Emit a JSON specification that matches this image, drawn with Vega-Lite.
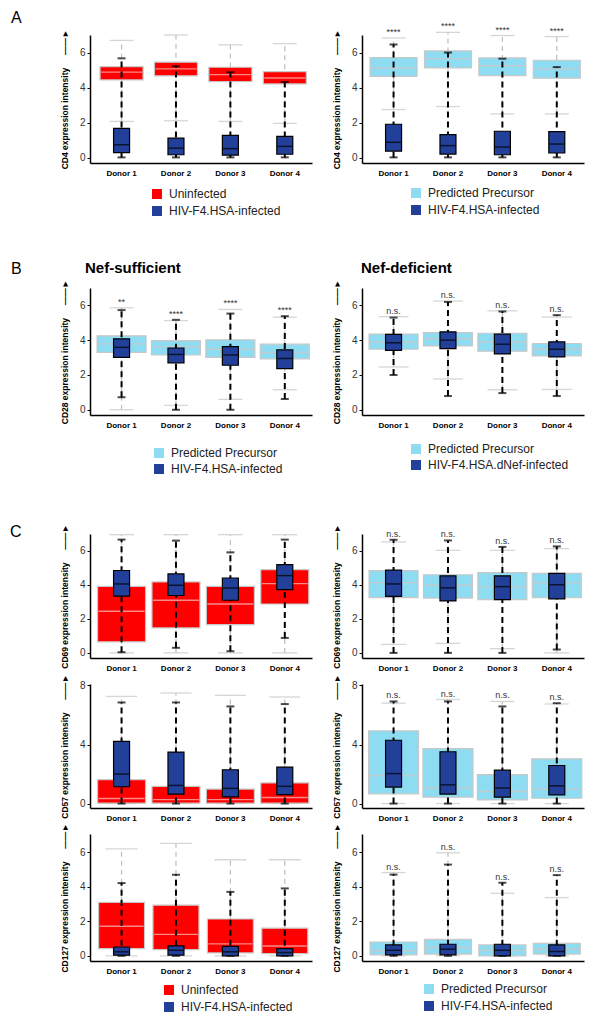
{
 "$schema": "https://vega.github.io/schema/vega-lite/v6.json",
 "padding": {"left": 10, "top": 10, "right": 5, "bottom": 5},
 "columns": 2,
 "spacing": {"row": 26, "column": 50},
 "bounds": "flush",
 "resolve": {"scale": {"color": "independent", "x": "independent", "y": "independent"}, "legend": {"color": "independent"}},
 "datasets": {
  "aL": [
   {"donor":"Donor 1","kind":"bg","grp":"Uninfected","lo":2.07,"q1":4.44,"med":4.88,"q3":5.2,"hi":6.69},
   {"donor":"Donor 1","kind":"inf","grp":"HIV-F4.HSA-infected","lo":0.02,"q1":0.29,"med":0.74,"q3":1.68,"hi":5.67},
   {"donor":"Donor 2","kind":"bg","grp":"Uninfected","lo":2.11,"q1":4.67,"med":5.07,"q3":5.45,"hi":7.0},
   {"donor":"Donor 2","kind":"inf","grp":"HIV-F4.HSA-infected","lo":0.02,"q1":0.17,"med":0.55,"q3":1.12,"hi":5.22},
   {"donor":"Donor 3","kind":"bg","grp":"Uninfected","lo":2.07,"q1":4.34,"med":4.74,"q3":5.16,"hi":6.44},
   {"donor":"Donor 3","kind":"inf","grp":"HIV-F4.HSA-infected","lo":0.02,"q1":0.15,"med":0.52,"q3":1.28,"hi":4.88},
   {"donor":"Donor 4","kind":"bg","grp":"Uninfected","lo":1.96,"q1":4.21,"med":4.55,"q3":4.91,"hi":6.51},
   {"donor":"Donor 4","kind":"inf","grp":"HIV-F4.HSA-infected","lo":0.02,"q1":0.2,"med":0.65,"q3":1.22,"hi":4.32}
  ],
  "aR": [
   {"donor":"Donor 1","kind":"bg","grp":"Predicted Precursor","lo":2.75,"q1":4.64,"med":5.12,"q3":5.71,"hi":6.83,"sig":"****"},
   {"donor":"Donor 1","kind":"inf","grp":"HIV-F4.HSA-infected","lo":0.02,"q1":0.38,"med":0.88,"q3":1.91,"hi":6.46,"sig":"****"},
   {"donor":"Donor 2","kind":"bg","grp":"Predicted Precursor","lo":2.92,"q1":5.12,"med":5.65,"q3":6.09,"hi":7.15,"sig":"****"},
   {"donor":"Donor 2","kind":"inf","grp":"HIV-F4.HSA-infected","lo":0.02,"q1":0.21,"med":0.69,"q3":1.32,"hi":6.0,"sig":"****"},
   {"donor":"Donor 3","kind":"bg","grp":"Predicted Precursor","lo":2.5,"q1":4.68,"med":5.25,"q3":5.69,"hi":6.97,"sig":"****"},
   {"donor":"Donor 3","kind":"inf","grp":"HIV-F4.HSA-infected","lo":0.02,"q1":0.17,"med":0.61,"q3":1.51,"hi":5.65,"sig":"****"},
   {"donor":"Donor 4","kind":"bg","grp":"Predicted Precursor","lo":2.5,"q1":4.54,"med":5.07,"q3":5.56,"hi":6.91,"sig":"****"},
   {"donor":"Donor 4","kind":"inf","grp":"HIV-F4.HSA-infected","lo":0.02,"q1":0.27,"med":0.78,"q3":1.49,"hi":5.17,"sig":"****"}
  ],
  "bL": [
   {"donor":"Donor 1","kind":"bg","grp":"Predicted Precursor","lo":0.0,"q1":3.3,"med":3.79,"q3":4.25,"hi":5.86,"sig":"**"},
   {"donor":"Donor 1","kind":"inf","grp":"HIV-F4.HSA-infected","lo":0.72,"q1":3.01,"med":3.59,"q3":4.08,"hi":5.73,"sig":"**"},
   {"donor":"Donor 2","kind":"bg","grp":"Predicted Precursor","lo":0.25,"q1":3.15,"med":3.63,"q3":3.98,"hi":5.13,"sig":"****"},
   {"donor":"Donor 2","kind":"inf","grp":"HIV-F4.HSA-infected","lo":0.0,"q1":2.7,"med":3.18,"q3":3.55,"hi":5.17,"sig":"****"},
   {"donor":"Donor 3","kind":"bg","grp":"Predicted Precursor","lo":0.6,"q1":3.01,"med":3.48,"q3":4.02,"hi":5.77,"sig":"****"},
   {"donor":"Donor 3","kind":"inf","grp":"HIV-F4.HSA-infected","lo":0.0,"q1":2.56,"med":3.15,"q3":3.63,"hi":5.53,"sig":"****"},
   {"donor":"Donor 4","kind":"bg","grp":"Predicted Precursor","lo":1.15,"q1":2.93,"med":3.3,"q3":3.77,"hi":5.32,"sig":"****"},
   {"donor":"Donor 4","kind":"inf","grp":"HIV-F4.HSA-infected","lo":0.62,"q1":2.37,"med":2.95,"q3":3.44,"hi":5.38,"sig":"****"}
  ],
  "bR": [
   {"donor":"Donor 1","kind":"bg","grp":"Predicted Precursor","lo":2.46,"q1":3.48,"med":3.9,"q3":4.35,"hi":5.35,"sig":"n.s."},
   {"donor":"Donor 1","kind":"inf","grp":"HIV-F4.HSA.dNef-infected","lo":2.0,"q1":3.42,"med":3.85,"q3":4.33,"hi":5.3,"sig":"n.s."},
   {"donor":"Donor 2","kind":"bg","grp":"Predicted Precursor","lo":1.77,"q1":3.67,"med":4.08,"q3":4.44,"hi":6.25,"sig":"n.s."},
   {"donor":"Donor 2","kind":"inf","grp":"HIV-F4.HSA.dNef-infected","lo":0.79,"q1":3.52,"med":4.0,"q3":4.48,"hi":6.2,"sig":"n.s."},
   {"donor":"Donor 3","kind":"bg","grp":"Predicted Precursor","lo":1.15,"q1":3.37,"med":3.9,"q3":4.4,"hi":5.69,"sig":"n.s."},
   {"donor":"Donor 3","kind":"inf","grp":"HIV-F4.HSA.dNef-infected","lo":0.96,"q1":3.21,"med":3.77,"q3":4.35,"hi":5.65,"sig":"n.s."},
   {"donor":"Donor 4","kind":"bg","grp":"Predicted Precursor","lo":1.17,"q1":3.1,"med":3.48,"q3":3.81,"hi":5.33,"sig":"n.s."},
   {"donor":"Donor 4","kind":"inf","grp":"HIV-F4.HSA.dNef-infected","lo":0.79,"q1":3.04,"med":3.48,"q3":3.9,"hi":5.44,"sig":"n.s."}
  ],
  "c1L": [
   {"donor":"Donor 1","kind":"bg","lo":0,"q1":0.65,"med":2.45,"q3":3.92,"hi":6.96},
   {"donor":"Donor 1","kind":"inf","lo":0.04,"q1":3.34,"med":4.06,"q3":4.85,"hi":6.67},
   {"donor":"Donor 2","kind":"bg","lo":0,"q1":1.47,"med":3.1,"q3":4.18,"hi":6.96},
   {"donor":"Donor 2","kind":"inf","lo":0.3,"q1":3.38,"med":3.98,"q3":4.65,"hi":6.61},
   {"donor":"Donor 3","kind":"bg","lo":0,"q1":1.67,"med":2.88,"q3":3.92,"hi":6.96},
   {"donor":"Donor 3","kind":"inf","lo":0.1,"q1":3.1,"med":3.82,"q3":4.41,"hi":5.92},
   {"donor":"Donor 4","kind":"bg","lo":0,"q1":2.88,"med":4.08,"q3":4.9,"hi":6.96},
   {"donor":"Donor 4","kind":"inf","lo":0.88,"q1":3.73,"med":4.55,"q3":5.2,"hi":6.67}
  ],
  "c1R": [
   {"donor":"Donor 1","kind":"bg","lo":0.5,"q1":3.25,"med":4.14,"q3":4.84,"hi":6.53,"sig":"n.s."},
   {"donor":"Donor 1","kind":"inf","lo":0,"q1":3.33,"med":4.06,"q3":4.87,"hi":6.66,"sig":"n.s."},
   {"donor":"Donor 2","kind":"bg","lo":0.56,"q1":3.23,"med":4.0,"q3":4.6,"hi":6.04,"sig":"n.s."},
   {"donor":"Donor 2","kind":"inf","lo":0,"q1":3.06,"med":3.83,"q3":4.54,"hi":6.62,"sig":"n.s."},
   {"donor":"Donor 3","kind":"bg","lo":0.25,"q1":3.14,"med":3.87,"q3":4.73,"hi":6.04,"sig":"n.s."},
   {"donor":"Donor 3","kind":"inf","lo":0,"q1":3.14,"med":3.9,"q3":4.54,"hi":6.24,"sig":"n.s."},
   {"donor":"Donor 4","kind":"bg","lo":0,"q1":3.25,"med":4.14,"q3":4.68,"hi":6.14,"sig":"n.s."},
   {"donor":"Donor 4","kind":"inf","lo":0.2,"q1":3.18,"med":4.01,"q3":4.68,"hi":6.27,"sig":"n.s."}
  ],
  "c2L": [
   {"donor":"Donor 1","kind":"bg","lo":0,"q1":0.03,"med":0.34,"q3":1.62,"hi":7.26},
   {"donor":"Donor 1","kind":"inf","lo":0,"q1":1.14,"med":2.0,"q3":4.22,"hi":6.85},
   {"donor":"Donor 2","kind":"bg","lo":0,"q1":0.03,"med":0.27,"q3":1.17,"hi":7.49},
   {"donor":"Donor 2","kind":"inf","lo":0,"q1":0.64,"med":1.23,"q3":3.49,"hi":6.85},
   {"donor":"Donor 3","kind":"bg","lo":0,"q1":0.03,"med":0.27,"q3":0.98,"hi":7.33},
   {"donor":"Donor 3","kind":"inf","lo":0,"q1":0.46,"med":1.03,"q3":2.29,"hi":6.58},
   {"donor":"Donor 4","kind":"bg","lo":0,"q1":0.03,"med":0.41,"q3":1.4,"hi":7.22},
   {"donor":"Donor 4","kind":"inf","lo":0,"q1":0.6,"med":1.17,"q3":2.47,"hi":6.74}
  ],
  "c2R": [
   {"donor":"Donor 1","kind":"bg","lo":0,"q1":0.66,"med":1.89,"q3":4.93,"hi":6.8,"sig":"n.s."},
   {"donor":"Donor 1","kind":"inf","lo":0,"q1":1.12,"med":2.03,"q3":4.29,"hi":6.92,"sig":"n.s."},
   {"donor":"Donor 2","kind":"bg","lo":0,"q1":0.43,"med":1.07,"q3":3.72,"hi":7.05,"sig":"n.s."},
   {"donor":"Donor 2","kind":"inf","lo":0,"q1":0.64,"med":1.27,"q3":3.51,"hi":6.92,"sig":"n.s."},
   {"donor":"Donor 3","kind":"bg","lo":0,"q1":0.25,"med":0.82,"q3":1.96,"hi":6.92,"sig":"n.s."},
   {"donor":"Donor 3","kind":"inf","lo":0,"q1":0.43,"med":1.05,"q3":2.26,"hi":6.58,"sig":"n.s."},
   {"donor":"Donor 4","kind":"bg","lo":0,"q1":0.36,"med":0.98,"q3":3.03,"hi":6.75,"sig":"n.s."},
   {"donor":"Donor 4","kind":"inf","lo":0,"q1":0.59,"med":1.2,"q3":2.58,"hi":6.8,"sig":"n.s."}
  ],
  "c3L": [
   {"donor":"Donor 1","kind":"bg","grp":"Uninfected","lo":0,"q1":0.42,"med":1.71,"q3":3.09,"hi":6.19},
   {"donor":"Donor 1","kind":"inf","grp":"HIV-F4.HSA-infected","lo":0,"q1":0.04,"med":0.23,"q3":0.51,"hi":4.21},
   {"donor":"Donor 2","kind":"bg","grp":"Uninfected","lo":0,"q1":0.36,"med":1.24,"q3":2.93,"hi":6.51},
   {"donor":"Donor 2","kind":"inf","grp":"HIV-F4.HSA-infected","lo":0,"q1":0.04,"med":0.32,"q3":0.57,"hi":4.69},
   {"donor":"Donor 3","kind":"bg","grp":"Uninfected","lo":0,"q1":0.17,"med":0.69,"q3":2.13,"hi":5.56},
   {"donor":"Donor 3","kind":"inf","grp":"HIV-F4.HSA-infected","lo":0,"q1":0.0,"med":0.23,"q3":0.55,"hi":3.7},
   {"donor":"Donor 4","kind":"bg","grp":"Uninfected","lo":0,"q1":0.13,"med":0.57,"q3":1.6,"hi":5.56},
   {"donor":"Donor 4","kind":"inf","grp":"HIV-F4.HSA-infected","lo":0,"q1":0.0,"med":0.19,"q3":0.42,"hi":3.9}
  ],
  "c3R": [
   {"donor":"Donor 1","kind":"bg","grp":"Predicted Precursor","lo":0,"q1":0.06,"med":0.29,"q3":0.8,"hi":4.82,"sig":"n.s."},
   {"donor":"Donor 1","kind":"inf","grp":"HIV-F4.HSA-infected","lo":0,"q1":0.06,"med":0.32,"q3":0.63,"hi":4.7,"sig":"n.s."},
   {"donor":"Donor 2","kind":"bg","grp":"Predicted Precursor","lo":0,"q1":0.1,"med":0.48,"q3":0.95,"hi":5.96,"sig":"n.s."},
   {"donor":"Donor 2","kind":"inf","grp":"HIV-F4.HSA-infected","lo":0,"q1":0.06,"med":0.38,"q3":0.67,"hi":5.28,"sig":"n.s."},
   {"donor":"Donor 3","kind":"bg","grp":"Predicted Precursor","lo":0,"q1":0.0,"med":0.32,"q3":0.63,"hi":3.62,"sig":"n.s."},
   {"donor":"Donor 3","kind":"inf","grp":"HIV-F4.HSA-infected","lo":0,"q1":0.0,"med":0.32,"q3":0.67,"hi":4.23,"sig":"n.s."},
   {"donor":"Donor 4","kind":"bg","grp":"Predicted Precursor","lo":0,"q1":0.1,"med":0.38,"q3":0.72,"hi":3.37,"sig":"n.s."},
   {"donor":"Donor 4","kind":"inf","grp":"HIV-F4.HSA-infected","lo":0,"q1":0.0,"med":0.25,"q3":0.63,"hi":4.67,"sig":"n.s."}
  ]
 },
 "concat": [
  {
   "width": 222, "height": 128,
   "data": {"name": "aL"},
   "title": {"text": "A", "anchor": "start", "frame": "group", "dx": -79, "fontSize": 16, "fontWeight": "normal", "baseline": "alphabetic", "offset": -10},
   "encoding": {"x": {"field": "donor", "type": "nominal", "title": null, "scale": {"paddingInner": 0, "paddingOuter": 0.04, "align": 1}}},
   "layer": [
    {"transform": [{"filter": "datum.kind == 'bg'"}], "mark": {"type": "rule", "color": "#bdbdbd", "strokeDash": [5, 4], "strokeWidth": 1.2}, "encoding": {"y": {"field": "lo", "type": "quantitative", "scale": {"domain": [-0.3, 7], "nice": false, "zero": false}, "axis": {"values": [0,1,2,3,4,5,6,7], "labelExpr": "datum.value % 2 == 0 ? datum.label : ''", "title": "CD4 expression intensity\u2002\u2002\u2002\u2014\u2014\u25ba"}}, "y2": {"field": "hi"}}},
    {"transform": [{"filter": "datum.kind == 'bg'"}], "mark": {"type": "tick", "color": "#c4c4c4", "size": 24, "thickness": 1.3}, "encoding": {"y": {"field": "hi", "type": "quantitative"}}},
    {"transform": [{"filter": "datum.kind == 'bg'"}], "mark": {"type": "tick", "color": "#c4c4c4", "size": 24, "thickness": 1.3}, "encoding": {"y": {"field": "lo", "type": "quantitative"}}},
    {"transform": [{"filter": "datum.kind == 'bg'"}], "mark": {"type": "bar", "width": 43, "stroke": "#c8c8c8", "strokeWidth": 1.2}, "encoding": {"y": {"field": "q1", "type": "quantitative"}, "y2": {"field": "q3"}, "color": {"field": "grp", "type": "nominal", "scale": {"domain": ["Uninfected", "HIV-F4.HSA-infected"], "range": ["#ff0000", "#22409a"]}, "legend": {"title": null, "orient": "none", "legendX": 61, "legendY": 153, "symbolType": "square", "symbolSize": 100, "symbolStrokeWidth": 0, "labelFontSize": 12, "labelColor": "#222", "labelOffset": 6, "rowPadding": 5}}}},
    {"transform": [{"filter": "datum.kind == 'bg'"}], "mark": {"type": "tick", "color": "#f4c4c4", "size": 41, "thickness": 1.4}, "encoding": {"y": {"field": "med", "type": "quantitative"}}},
    {"transform": [{"filter": "datum.kind == 'inf'"}], "mark": {"type": "rule", "color": "black", "strokeDash": [6, 4], "strokeWidth": 2}, "encoding": {"y": {"field": "lo", "type": "quantitative"}, "y2": {"field": "hi"}}},
    {"transform": [{"filter": "datum.kind == 'inf'"}], "mark": {"type": "tick", "color": "black", "size": 8, "thickness": 2}, "encoding": {"y": {"field": "hi", "type": "quantitative"}}},
    {"transform": [{"filter": "datum.kind == 'inf'"}], "mark": {"type": "tick", "color": "black", "size": 8, "thickness": 2}, "encoding": {"y": {"field": "lo", "type": "quantitative"}}},
    {"transform": [{"filter": "datum.kind == 'inf'"}], "mark": {"type": "bar", "width": 16, "stroke": "black", "strokeWidth": 1.2}, "encoding": {"y": {"field": "q1", "type": "quantitative"}, "y2": {"field": "q3"}, "color": {"field": "grp", "type": "nominal", "scale": {"domain": ["Uninfected", "HIV-F4.HSA-infected"], "range": ["#ff0000", "#22409a"]}}}},
    {"transform": [{"filter": "datum.kind == 'inf'"}], "mark": {"type": "tick", "color": "black", "size": 15, "thickness": 1.5}, "encoding": {"y": {"field": "med", "type": "quantitative"}}}
   ]
  },
  {
   "width": 222, "height": 128,
   "data": {"name": "aR"},
   "encoding": {"x": {"field": "donor", "type": "nominal", "title": null, "scale": {"paddingInner": 0, "paddingOuter": 0.04, "align": 1}}},
   "layer": [
    {"transform": [{"filter": "datum.kind == 'bg'"}], "mark": {"type": "rule", "color": "#bdbdbd", "strokeDash": [5, 4], "strokeWidth": 1.2}, "encoding": {"y": {"field": "lo", "type": "quantitative", "scale": {"domain": [-0.3, 7], "nice": false, "zero": false}, "axis": {"values": [0,1,2,3,4,5,6,7], "labelExpr": "datum.value % 2 == 0 ? datum.label : ''", "title": "CD4 expression intensity\u2002\u2002\u2002\u2014\u2014\u25ba"}}, "y2": {"field": "hi"}}},
    {"transform": [{"filter": "datum.kind == 'bg'"}], "mark": {"type": "tick", "color": "#c4c4c4", "size": 24, "thickness": 1.3}, "encoding": {"y": {"field": "hi", "type": "quantitative"}}},
    {"transform": [{"filter": "datum.kind == 'bg'"}], "mark": {"type": "tick", "color": "#c4c4c4", "size": 24, "thickness": 1.3}, "encoding": {"y": {"field": "lo", "type": "quantitative"}}},
    {"transform": [{"filter": "datum.kind == 'bg'"}], "mark": {"type": "bar", "width": 47, "stroke": "#c8c8c8", "strokeWidth": 1.2}, "encoding": {"y": {"field": "q1", "type": "quantitative"}, "y2": {"field": "q3"}, "color": {"field": "grp", "type": "nominal", "scale": {"domain": ["Predicted Precursor", "HIV-F4.HSA-infected"], "range": ["#8edcf2", "#22409a"]}, "legend": {"title": null, "orient": "none", "legendX": 48, "legendY": 152, "symbolType": "square", "symbolSize": 100, "symbolStrokeWidth": 0, "labelFontSize": 12, "labelColor": "#222", "labelOffset": 6, "rowPadding": 5}}}},
    {"transform": [{"filter": "datum.kind == 'bg'"}], "mark": {"type": "tick", "color": "#d9c4c0", "size": 45, "thickness": 1.4}, "encoding": {"y": {"field": "med", "type": "quantitative"}}},
    {"transform": [{"filter": "datum.kind == 'inf'"}], "mark": {"type": "rule", "color": "black", "strokeDash": [6, 4], "strokeWidth": 2}, "encoding": {"y": {"field": "lo", "type": "quantitative"}, "y2": {"field": "hi"}}},
    {"transform": [{"filter": "datum.kind == 'inf'"}], "mark": {"type": "tick", "color": "black", "size": 8, "thickness": 2}, "encoding": {"y": {"field": "hi", "type": "quantitative"}}},
    {"transform": [{"filter": "datum.kind == 'inf'"}], "mark": {"type": "tick", "color": "black", "size": 8, "thickness": 2}, "encoding": {"y": {"field": "lo", "type": "quantitative"}}},
    {"transform": [{"filter": "datum.kind == 'inf'"}], "mark": {"type": "bar", "width": 16, "stroke": "black", "strokeWidth": 1.2}, "encoding": {"y": {"field": "q1", "type": "quantitative"}, "y2": {"field": "q3"}, "color": {"field": "grp", "type": "nominal", "scale": {"domain": ["Predicted Precursor", "HIV-F4.HSA-infected"], "range": ["#8edcf2", "#22409a"]}}}},
    {"transform": [{"filter": "datum.kind == 'inf'"}], "mark": {"type": "tick", "color": "black", "size": 15, "thickness": 1.5}, "encoding": {"y": {"field": "med", "type": "quantitative"}}},
    {"mark": {"type": "text", "dy": -3, "fontSize": 9, "color": "#333", "baseline": "alphabetic"}, "encoding": {"y": {"aggregate": "max", "field": "hi", "type": "quantitative"}, "text": {"field": "sig"}}}
   ]
  },
  {
   "width": 222, "height": 73,
   "data": {"values": []},
   "title": {"text": "B", "orient": "bottom", "anchor": "start", "frame": "group", "dx": -79, "fontSize": 16, "fontWeight": "normal", "baseline": "alphabetic", "offset": 12},
   "mark": {"type": "point"},
   "encoding": {}
  },
  {
   "width": 222, "height": 73,
   "data": {"values": []},
   "mark": {"type": "point"},
   "encoding": {}
  },
  {
   "width": 222, "height": 127,
   "data": {"name": "bL"},
   "title": {"text": "Nef-sufficient", "anchor": "start", "frame": "group", "dx": -5, "fontSize": 15, "fontWeight": "bold", "baseline": "alphabetic", "offset": -9},
   "encoding": {"x": {"field": "donor", "type": "nominal", "title": null, "scale": {"paddingInner": 0, "paddingOuter": 0.04, "align": 1}}},
   "layer": [
    {"transform": [{"filter": "datum.kind == 'bg'"}], "mark": {"type": "rule", "color": "#bdbdbd", "strokeDash": [5, 4], "strokeWidth": 1.2}, "encoding": {"y": {"field": "lo", "type": "quantitative", "scale": {"domain": [-0.3, 7], "nice": false, "zero": false}, "axis": {"values": [0,1,2,3,4,5,6,7], "labelExpr": "datum.value % 2 == 0 ? datum.label : ''", "title": "CD28 expression intensity\u2002\u2002\u2002\u2014\u2014\u25ba"}}, "y2": {"field": "hi"}}},
    {"transform": [{"filter": "datum.kind == 'bg'"}], "mark": {"type": "tick", "color": "#c4c4c4", "size": 24, "thickness": 1.3}, "encoding": {"y": {"field": "hi", "type": "quantitative"}}},
    {"transform": [{"filter": "datum.kind == 'bg'"}], "mark": {"type": "tick", "color": "#c4c4c4", "size": 24, "thickness": 1.3}, "encoding": {"y": {"field": "lo", "type": "quantitative"}}},
    {"transform": [{"filter": "datum.kind == 'bg'"}], "mark": {"type": "bar", "width": 49, "stroke": "#c8c8c8", "strokeWidth": 1.2}, "encoding": {"y": {"field": "q1", "type": "quantitative"}, "y2": {"field": "q3"}, "color": {"field": "grp", "type": "nominal", "scale": {"domain": ["Predicted Precursor", "HIV-F4.HSA-infected"], "range": ["#8edcf2", "#22409a"]}, "legend": {"title": null, "orient": "none", "legendX": 63, "legendY": 159, "symbolType": "square", "symbolSize": 100, "symbolStrokeWidth": 0, "labelFontSize": 12, "labelColor": "#222", "labelOffset": 6, "rowPadding": 4}}}},
    {"transform": [{"filter": "datum.kind == 'bg'"}], "mark": {"type": "tick", "color": "#d9c4c0", "size": 47, "thickness": 1.4}, "encoding": {"y": {"field": "med", "type": "quantitative"}}},
    {"transform": [{"filter": "datum.kind == 'inf'"}], "mark": {"type": "rule", "color": "black", "strokeDash": [6, 4], "strokeWidth": 2}, "encoding": {"y": {"field": "lo", "type": "quantitative"}, "y2": {"field": "hi"}}},
    {"transform": [{"filter": "datum.kind == 'inf'"}], "mark": {"type": "tick", "color": "black", "size": 8, "thickness": 2}, "encoding": {"y": {"field": "hi", "type": "quantitative"}}},
    {"transform": [{"filter": "datum.kind == 'inf'"}], "mark": {"type": "tick", "color": "black", "size": 8, "thickness": 2}, "encoding": {"y": {"field": "lo", "type": "quantitative"}}},
    {"transform": [{"filter": "datum.kind == 'inf'"}], "mark": {"type": "bar", "width": 16, "stroke": "black", "strokeWidth": 1.2}, "encoding": {"y": {"field": "q1", "type": "quantitative"}, "y2": {"field": "q3"}, "color": {"field": "grp", "type": "nominal", "scale": {"domain": ["Predicted Precursor", "HIV-F4.HSA-infected"], "range": ["#8edcf2", "#22409a"]}}}},
    {"transform": [{"filter": "datum.kind == 'inf'"}], "mark": {"type": "tick", "color": "black", "size": 15, "thickness": 1.5}, "encoding": {"y": {"field": "med", "type": "quantitative"}}},
    {"mark": {"type": "text", "dy": -3, "fontSize": 9, "color": "#333", "baseline": "alphabetic"}, "encoding": {"y": {"aggregate": "max", "field": "hi", "type": "quantitative"}, "text": {"field": "sig"}}}
   ]
  },
  {
   "width": 222, "height": 127,
   "data": {"name": "bR"},
   "title": {"text": "Nef-deficient", "anchor": "start", "frame": "group", "dx": -1, "fontSize": 15, "fontWeight": "bold", "baseline": "alphabetic", "offset": -9},
   "encoding": {"x": {"field": "donor", "type": "nominal", "title": null, "scale": {"paddingInner": 0, "paddingOuter": 0.04, "align": 1}}},
   "layer": [
    {"transform": [{"filter": "datum.kind == 'bg'"}], "mark": {"type": "rule", "color": "#bdbdbd", "strokeDash": [5, 4], "strokeWidth": 1.2}, "encoding": {"y": {"field": "lo", "type": "quantitative", "scale": {"domain": [-0.3, 7], "nice": false, "zero": false}, "axis": {"values": [0,1,2,3,4,5,6,7], "labelExpr": "datum.value % 2 == 0 ? datum.label : ''", "title": "CD28 expression intensity\u2002\u2002\u2002\u2014\u2014\u25ba"}}, "y2": {"field": "hi"}}},
    {"transform": [{"filter": "datum.kind == 'bg'"}], "mark": {"type": "tick", "color": "#c4c4c4", "size": 30, "thickness": 1.3}, "encoding": {"y": {"field": "hi", "type": "quantitative"}}},
    {"transform": [{"filter": "datum.kind == 'bg'"}], "mark": {"type": "tick", "color": "#c4c4c4", "size": 30, "thickness": 1.3}, "encoding": {"y": {"field": "lo", "type": "quantitative"}}},
    {"transform": [{"filter": "datum.kind == 'bg'"}], "mark": {"type": "bar", "width": 49, "stroke": "#c8c8c8", "strokeWidth": 1.2}, "encoding": {"y": {"field": "q1", "type": "quantitative"}, "y2": {"field": "q3"}, "color": {"field": "grp", "type": "nominal", "scale": {"domain": ["Predicted Precursor", "HIV-F4.HSA.dNef-infected"], "range": ["#8edcf2", "#22409a"]}, "legend": {"title": null, "orient": "none", "legendX": 48, "legendY": 155, "symbolType": "square", "symbolSize": 100, "symbolStrokeWidth": 0, "labelFontSize": 12, "labelColor": "#222", "labelOffset": 6, "rowPadding": 4}}}},
    {"transform": [{"filter": "datum.kind == 'bg'"}], "mark": {"type": "tick", "color": "#d9c4c0", "size": 47, "thickness": 1.4}, "encoding": {"y": {"field": "med", "type": "quantitative"}}},
    {"transform": [{"filter": "datum.kind == 'inf'"}], "mark": {"type": "rule", "color": "black", "strokeDash": [6, 4], "strokeWidth": 2}, "encoding": {"y": {"field": "lo", "type": "quantitative"}, "y2": {"field": "hi"}}},
    {"transform": [{"filter": "datum.kind == 'inf'"}], "mark": {"type": "tick", "color": "black", "size": 8, "thickness": 2}, "encoding": {"y": {"field": "hi", "type": "quantitative"}}},
    {"transform": [{"filter": "datum.kind == 'inf'"}], "mark": {"type": "tick", "color": "black", "size": 8, "thickness": 2}, "encoding": {"y": {"field": "lo", "type": "quantitative"}}},
    {"transform": [{"filter": "datum.kind == 'inf'"}], "mark": {"type": "bar", "width": 16, "stroke": "black", "strokeWidth": 1.2}, "encoding": {"y": {"field": "q1", "type": "quantitative"}, "y2": {"field": "q3"}, "color": {"field": "grp", "type": "nominal", "scale": {"domain": ["Predicted Precursor", "HIV-F4.HSA.dNef-infected"], "range": ["#8edcf2", "#22409a"]}}}},
    {"transform": [{"filter": "datum.kind == 'inf'"}], "mark": {"type": "tick", "color": "black", "size": 15, "thickness": 1.5}, "encoding": {"y": {"field": "med", "type": "quantitative"}}},
    {"mark": {"type": "text", "dy": -3, "fontSize": 9, "color": "#333", "baseline": "alphabetic"}, "encoding": {"y": {"aggregate": "max", "field": "hi", "type": "quantitative"}, "text": {"field": "sig"}}}
   ]
  },
  {
   "width": 222, "height": 67,
   "data": {"values": []},
   "mark": {"type": "point"},
   "encoding": {}
  },
  {
   "width": 222, "height": 67,
   "data": {"values": []},
   "mark": {"type": "point"},
   "encoding": {}
  },
  {
   "width": 222, "height": 124,
   "data": {"name": "c1L"},
   "title": {"text": "C", "anchor": "start", "frame": "group", "dx": -80, "fontSize": 16, "fontWeight": "normal", "baseline": "alphabetic", "offset": -29},
   "encoding": {"x": {"field": "donor", "type": "nominal", "title": null, "scale": {"paddingInner": 0, "paddingOuter": 0.04, "align": 1}}},
   "layer": [
    {"transform": [{"filter": "datum.kind == 'bg'"}], "mark": {"type": "rule", "color": "#bdbdbd", "strokeDash": [5, 4], "strokeWidth": 1.2}, "encoding": {"y": {"field": "lo", "type": "quantitative", "scale": {"domain": [-0.3, 7], "nice": false, "zero": false}, "axis": {"values": [0,1,2,3,4,5,6,7], "labelExpr": "datum.value % 2 == 0 ? datum.label : ''", "title": "CD69 expression intensity\u2002\u2002\u2002\u2014\u2014\u25ba"}}, "y2": {"field": "hi"}}},
    {"transform": [{"filter": "datum.kind == 'bg'"}], "mark": {"type": "tick", "color": "#c4c4c4", "size": 25, "thickness": 1.3}, "encoding": {"y": {"field": "hi", "type": "quantitative"}}},
    {"transform": [{"filter": "datum.kind == 'bg'"}], "mark": {"type": "tick", "color": "#c4c4c4", "size": 25, "thickness": 1.3}, "encoding": {"y": {"field": "lo", "type": "quantitative"}}},
    {"transform": [{"filter": "datum.kind == 'bg'"}], "mark": {"type": "bar", "width": 48, "color": "#ff0000", "stroke": "#c8c8c8", "strokeWidth": 1.2}, "encoding": {"y": {"field": "q1", "type": "quantitative"}, "y2": {"field": "q3"}}},
    {"transform": [{"filter": "datum.kind == 'bg'"}], "mark": {"type": "tick", "color": "#f4c4c4", "size": 46, "thickness": 1.4}, "encoding": {"y": {"field": "med", "type": "quantitative"}}},
    {"transform": [{"filter": "datum.kind == 'inf'"}], "mark": {"type": "rule", "color": "black", "strokeDash": [6, 4], "strokeWidth": 2}, "encoding": {"y": {"field": "lo", "type": "quantitative"}, "y2": {"field": "hi"}}},
    {"transform": [{"filter": "datum.kind == 'inf'"}], "mark": {"type": "tick", "color": "black", "size": 8, "thickness": 2}, "encoding": {"y": {"field": "hi", "type": "quantitative"}}},
    {"transform": [{"filter": "datum.kind == 'inf'"}], "mark": {"type": "tick", "color": "black", "size": 8, "thickness": 2}, "encoding": {"y": {"field": "lo", "type": "quantitative"}}},
    {"transform": [{"filter": "datum.kind == 'inf'"}], "mark": {"type": "bar", "width": 16, "color": "#22409a", "stroke": "black", "strokeWidth": 1.2}, "encoding": {"y": {"field": "q1", "type": "quantitative"}, "y2": {"field": "q3"}}},
    {"transform": [{"filter": "datum.kind == 'inf'"}], "mark": {"type": "tick", "color": "black", "size": 15, "thickness": 1.5}, "encoding": {"y": {"field": "med", "type": "quantitative"}}}
   ]
  },
  {
   "width": 222, "height": 124,
   "data": {"name": "c1R"},
   "encoding": {"x": {"field": "donor", "type": "nominal", "title": null, "scale": {"paddingInner": 0, "paddingOuter": 0.04, "align": 1}}},
   "layer": [
    {"transform": [{"filter": "datum.kind == 'bg'"}], "mark": {"type": "rule", "color": "#bdbdbd", "strokeDash": [5, 4], "strokeWidth": 1.2}, "encoding": {"y": {"field": "lo", "type": "quantitative", "scale": {"domain": [-0.3, 7], "nice": false, "zero": false}, "axis": {"values": [0,1,2,3,4,5,6,7], "labelExpr": "datum.value % 2 == 0 ? datum.label : ''", "title": "CD69 expression intensity\u2002\u2002\u2002\u2014\u2014\u25ba"}}, "y2": {"field": "hi"}}},
    {"transform": [{"filter": "datum.kind == 'bg'"}], "mark": {"type": "tick", "color": "#c4c4c4", "size": 25, "thickness": 1.3}, "encoding": {"y": {"field": "hi", "type": "quantitative"}}},
    {"transform": [{"filter": "datum.kind == 'bg'"}], "mark": {"type": "tick", "color": "#c4c4c4", "size": 25, "thickness": 1.3}, "encoding": {"y": {"field": "lo", "type": "quantitative"}}},
    {"transform": [{"filter": "datum.kind == 'bg'"}], "mark": {"type": "bar", "width": 49, "color": "#8edcf2", "stroke": "#c8c8c8", "strokeWidth": 1.2}, "encoding": {"y": {"field": "q1", "type": "quantitative"}, "y2": {"field": "q3"}}},
    {"transform": [{"filter": "datum.kind == 'bg'"}], "mark": {"type": "tick", "color": "#d9c4c0", "size": 47, "thickness": 1.4}, "encoding": {"y": {"field": "med", "type": "quantitative"}}},
    {"transform": [{"filter": "datum.kind == 'inf'"}], "mark": {"type": "rule", "color": "black", "strokeDash": [6, 4], "strokeWidth": 2}, "encoding": {"y": {"field": "lo", "type": "quantitative"}, "y2": {"field": "hi"}}},
    {"transform": [{"filter": "datum.kind == 'inf'"}], "mark": {"type": "tick", "color": "black", "size": 8, "thickness": 2}, "encoding": {"y": {"field": "hi", "type": "quantitative"}}},
    {"transform": [{"filter": "datum.kind == 'inf'"}], "mark": {"type": "tick", "color": "black", "size": 8, "thickness": 2}, "encoding": {"y": {"field": "lo", "type": "quantitative"}}},
    {"transform": [{"filter": "datum.kind == 'inf'"}], "mark": {"type": "bar", "width": 16, "color": "#22409a", "stroke": "black", "strokeWidth": 1.2}, "encoding": {"y": {"field": "q1", "type": "quantitative"}, "y2": {"field": "q3"}}},
    {"transform": [{"filter": "datum.kind == 'inf'"}], "mark": {"type": "tick", "color": "black", "size": 15, "thickness": 1.5}, "encoding": {"y": {"field": "med", "type": "quantitative"}}},
    {"mark": {"type": "text", "dy": -3, "fontSize": 9, "color": "#333", "baseline": "alphabetic"}, "encoding": {"y": {"aggregate": "max", "field": "hi", "type": "quantitative"}, "text": {"field": "sig"}}}
   ]
  },
  {
   "width": 222, "height": 124,
   "data": {"name": "c2L"},
   "encoding": {"x": {"field": "donor", "type": "nominal", "title": null, "scale": {"paddingInner": 0, "paddingOuter": 0.04, "align": 1}}},
   "layer": [
    {"transform": [{"filter": "datum.kind == 'bg'"}], "mark": {"type": "rule", "color": "#bdbdbd", "strokeDash": [5, 4], "strokeWidth": 1.2}, "encoding": {"y": {"field": "lo", "type": "quantitative", "scale": {"domain": [-0.3, 8.1], "nice": false, "zero": false}, "axis": {"values": [0,1,2,3,4,5,6,7,8], "labelExpr": "datum.value % 2 == 0 ? datum.label : ''", "title": "CD57 expression intensity\u2002\u2002\u2002\u2014\u2014\u25ba"}}, "y2": {"field": "hi"}}},
    {"transform": [{"filter": "datum.kind == 'bg'"}], "mark": {"type": "tick", "color": "#c4c4c4", "size": 31, "thickness": 1.3}, "encoding": {"y": {"field": "hi", "type": "quantitative"}}},
    {"transform": [{"filter": "datum.kind == 'bg'"}], "mark": {"type": "tick", "color": "#c4c4c4", "size": 31, "thickness": 1.3}, "encoding": {"y": {"field": "lo", "type": "quantitative"}}},
    {"transform": [{"filter": "datum.kind == 'bg'"}], "mark": {"type": "bar", "width": 48, "color": "#ff0000", "stroke": "#c8c8c8", "strokeWidth": 1.2}, "encoding": {"y": {"field": "q1", "type": "quantitative"}, "y2": {"field": "q3"}}},
    {"transform": [{"filter": "datum.kind == 'bg'"}], "mark": {"type": "tick", "color": "#f4c4c4", "size": 46, "thickness": 1.4}, "encoding": {"y": {"field": "med", "type": "quantitative"}}},
    {"transform": [{"filter": "datum.kind == 'inf'"}], "mark": {"type": "rule", "color": "black", "strokeDash": [6, 4], "strokeWidth": 2}, "encoding": {"y": {"field": "lo", "type": "quantitative"}, "y2": {"field": "hi"}}},
    {"transform": [{"filter": "datum.kind == 'inf'"}], "mark": {"type": "tick", "color": "black", "size": 8, "thickness": 2}, "encoding": {"y": {"field": "hi", "type": "quantitative"}}},
    {"transform": [{"filter": "datum.kind == 'inf'"}], "mark": {"type": "tick", "color": "black", "size": 8, "thickness": 2}, "encoding": {"y": {"field": "lo", "type": "quantitative"}}},
    {"transform": [{"filter": "datum.kind == 'inf'"}], "mark": {"type": "bar", "width": 16, "color": "#22409a", "stroke": "black", "strokeWidth": 1.2}, "encoding": {"y": {"field": "q1", "type": "quantitative"}, "y2": {"field": "q3"}}},
    {"transform": [{"filter": "datum.kind == 'inf'"}], "mark": {"type": "tick", "color": "black", "size": 15, "thickness": 1.5}, "encoding": {"y": {"field": "med", "type": "quantitative"}}}
   ]
  },
  {
   "width": 222, "height": 124,
   "data": {"name": "c2R"},
   "encoding": {"x": {"field": "donor", "type": "nominal", "title": null, "scale": {"paddingInner": 0, "paddingOuter": 0.04, "align": 1}}},
   "layer": [
    {"transform": [{"filter": "datum.kind == 'bg'"}], "mark": {"type": "rule", "color": "#bdbdbd", "strokeDash": [5, 4], "strokeWidth": 1.2}, "encoding": {"y": {"field": "lo", "type": "quantitative", "scale": {"domain": [-0.3, 8.1], "nice": false, "zero": false}, "axis": {"values": [0,1,2,3,4,5,6,7,8], "labelExpr": "datum.value % 2 == 0 ? datum.label : ''", "title": "CD57 expression intensity\u2002\u2002\u2002\u2014\u2014\u25ba"}}, "y2": {"field": "hi"}}},
    {"transform": [{"filter": "datum.kind == 'bg'"}], "mark": {"type": "tick", "color": "#c4c4c4", "size": 24, "thickness": 1.3}, "encoding": {"y": {"field": "hi", "type": "quantitative"}}},
    {"transform": [{"filter": "datum.kind == 'bg'"}], "mark": {"type": "tick", "color": "#c4c4c4", "size": 24, "thickness": 1.3}, "encoding": {"y": {"field": "lo", "type": "quantitative"}}},
    {"transform": [{"filter": "datum.kind == 'bg'"}], "mark": {"type": "bar", "width": 50, "color": "#8edcf2", "stroke": "#c8c8c8", "strokeWidth": 1.2}, "encoding": {"y": {"field": "q1", "type": "quantitative"}, "y2": {"field": "q3"}}},
    {"transform": [{"filter": "datum.kind == 'bg'"}], "mark": {"type": "tick", "color": "#d9c4c0", "size": 48, "thickness": 1.4}, "encoding": {"y": {"field": "med", "type": "quantitative"}}},
    {"transform": [{"filter": "datum.kind == 'inf'"}], "mark": {"type": "rule", "color": "black", "strokeDash": [6, 4], "strokeWidth": 2}, "encoding": {"y": {"field": "lo", "type": "quantitative"}, "y2": {"field": "hi"}}},
    {"transform": [{"filter": "datum.kind == 'inf'"}], "mark": {"type": "tick", "color": "black", "size": 8, "thickness": 2}, "encoding": {"y": {"field": "hi", "type": "quantitative"}}},
    {"transform": [{"filter": "datum.kind == 'inf'"}], "mark": {"type": "tick", "color": "black", "size": 8, "thickness": 2}, "encoding": {"y": {"field": "lo", "type": "quantitative"}}},
    {"transform": [{"filter": "datum.kind == 'inf'"}], "mark": {"type": "bar", "width": 16, "color": "#22409a", "stroke": "black", "strokeWidth": 1.2}, "encoding": {"y": {"field": "q1", "type": "quantitative"}, "y2": {"field": "q3"}}},
    {"transform": [{"filter": "datum.kind == 'inf'"}], "mark": {"type": "tick", "color": "black", "size": 15, "thickness": 1.5}, "encoding": {"y": {"field": "med", "type": "quantitative"}}},
    {"mark": {"type": "text", "dy": -3, "fontSize": 9, "color": "#333", "baseline": "alphabetic"}, "encoding": {"y": {"aggregate": "max", "field": "hi", "type": "quantitative"}, "text": {"field": "sig"}}}
   ]
  },
  {
   "width": 222, "height": 127,
   "data": {"name": "c3L"},
   "encoding": {"x": {"field": "donor", "type": "nominal", "title": null, "scale": {"paddingInner": 0, "paddingOuter": 0.04, "align": 1}}},
   "layer": [
    {"transform": [{"filter": "datum.kind == 'bg'"}], "mark": {"type": "rule", "color": "#bdbdbd", "strokeDash": [5, 4], "strokeWidth": 1.2}, "encoding": {"y": {"field": "lo", "type": "quantitative", "scale": {"domain": [-0.3, 7.05], "nice": false, "zero": false}, "axis": {"values": [0,1,2,3,4,5,6,7], "labelExpr": "datum.value % 2 == 0 ? datum.label : ''", "title": "CD127 expression intensity\u2002\u2002\u2002\u2014\u2014\u25ba"}}, "y2": {"field": "hi"}}},
    {"transform": [{"filter": "datum.kind == 'bg'"}], "mark": {"type": "tick", "color": "#c4c4c4", "size": 32, "thickness": 1.3}, "encoding": {"y": {"field": "hi", "type": "quantitative"}}},
    {"transform": [{"filter": "datum.kind == 'bg'"}], "mark": {"type": "tick", "color": "#c4c4c4", "size": 32, "thickness": 1.3}, "encoding": {"y": {"field": "lo", "type": "quantitative"}}},
    {"transform": [{"filter": "datum.kind == 'bg'"}], "mark": {"type": "bar", "width": 46, "stroke": "#c8c8c8", "strokeWidth": 1.2}, "encoding": {"y": {"field": "q1", "type": "quantitative"}, "y2": {"field": "q3"}, "color": {"field": "grp", "type": "nominal", "scale": {"domain": ["Uninfected", "HIV-F4.HSA-infected"], "range": ["#ff0000", "#22409a"]}, "legend": {"title": null, "orient": "none", "legendX": 73, "legendY": 150, "symbolType": "square", "symbolSize": 100, "symbolStrokeWidth": 0, "labelFontSize": 12, "labelColor": "#222", "labelOffset": 6, "rowPadding": 5}}}},
    {"transform": [{"filter": "datum.kind == 'bg'"}], "mark": {"type": "tick", "color": "#f4c4c4", "size": 44, "thickness": 1.4}, "encoding": {"y": {"field": "med", "type": "quantitative"}}},
    {"transform": [{"filter": "datum.kind == 'inf'"}], "mark": {"type": "rule", "color": "black", "strokeDash": [6, 4], "strokeWidth": 2}, "encoding": {"y": {"field": "lo", "type": "quantitative"}, "y2": {"field": "hi"}}},
    {"transform": [{"filter": "datum.kind == 'inf'"}], "mark": {"type": "tick", "color": "black", "size": 8, "thickness": 2}, "encoding": {"y": {"field": "hi", "type": "quantitative"}}},
    {"transform": [{"filter": "datum.kind == 'inf'"}], "mark": {"type": "tick", "color": "black", "size": 8, "thickness": 2}, "encoding": {"y": {"field": "lo", "type": "quantitative"}}},
    {"transform": [{"filter": "datum.kind == 'inf'"}], "mark": {"type": "bar", "width": 16, "stroke": "black", "strokeWidth": 1.2}, "encoding": {"y": {"field": "q1", "type": "quantitative"}, "y2": {"field": "q3"}, "color": {"field": "grp", "type": "nominal", "scale": {"domain": ["Uninfected", "HIV-F4.HSA-infected"], "range": ["#ff0000", "#22409a"]}}}},
    {"transform": [{"filter": "datum.kind == 'inf'"}], "mark": {"type": "tick", "color": "black", "size": 15, "thickness": 1.5}, "encoding": {"y": {"field": "med", "type": "quantitative"}}}
   ]
  },
  {
   "width": 222, "height": 127,
   "data": {"name": "c3R"},
   "encoding": {"x": {"field": "donor", "type": "nominal", "title": null, "scale": {"paddingInner": 0, "paddingOuter": 0.04, "align": 1}}},
   "layer": [
    {"transform": [{"filter": "datum.kind == 'bg'"}], "mark": {"type": "rule", "color": "#bdbdbd", "strokeDash": [5, 4], "strokeWidth": 1.2}, "encoding": {"y": {"field": "lo", "type": "quantitative", "scale": {"domain": [-0.3, 7.05], "nice": false, "zero": false}, "axis": {"values": [0,1,2,3,4,5,6,7], "labelExpr": "datum.value % 2 == 0 ? datum.label : ''", "title": "CD127 expression intensity\u2002\u2002\u2002\u2014\u2014\u25ba"}}, "y2": {"field": "hi"}}},
    {"transform": [{"filter": "datum.kind == 'bg'"}], "mark": {"type": "tick", "color": "#c4c4c4", "size": 24, "thickness": 1.3}, "encoding": {"y": {"field": "hi", "type": "quantitative"}}},
    {"transform": [{"filter": "datum.kind == 'bg'"}], "mark": {"type": "tick", "color": "#c4c4c4", "size": 24, "thickness": 1.3}, "encoding": {"y": {"field": "lo", "type": "quantitative"}}},
    {"transform": [{"filter": "datum.kind == 'bg'"}], "mark": {"type": "bar", "width": 47, "stroke": "#c8c8c8", "strokeWidth": 1.2}, "encoding": {"y": {"field": "q1", "type": "quantitative"}, "y2": {"field": "q3"}, "color": {"field": "grp", "type": "nominal", "scale": {"domain": ["Predicted Precursor", "HIV-F4.HSA-infected"], "range": ["#8edcf2", "#22409a"]}, "legend": {"title": null, "orient": "none", "legendX": 61, "legendY": 149, "symbolType": "square", "symbolSize": 100, "symbolStrokeWidth": 0, "labelFontSize": 12, "labelColor": "#222", "labelOffset": 6, "rowPadding": 5}}}},
    {"transform": [{"filter": "datum.kind == 'bg'"}], "mark": {"type": "tick", "color": "#d9c4c0", "size": 45, "thickness": 1.4}, "encoding": {"y": {"field": "med", "type": "quantitative"}}},
    {"transform": [{"filter": "datum.kind == 'inf'"}], "mark": {"type": "rule", "color": "black", "strokeDash": [6, 4], "strokeWidth": 2}, "encoding": {"y": {"field": "lo", "type": "quantitative"}, "y2": {"field": "hi"}}},
    {"transform": [{"filter": "datum.kind == 'inf'"}], "mark": {"type": "tick", "color": "black", "size": 8, "thickness": 2}, "encoding": {"y": {"field": "hi", "type": "quantitative"}}},
    {"transform": [{"filter": "datum.kind == 'inf'"}], "mark": {"type": "tick", "color": "black", "size": 8, "thickness": 2}, "encoding": {"y": {"field": "lo", "type": "quantitative"}}},
    {"transform": [{"filter": "datum.kind == 'inf'"}], "mark": {"type": "bar", "width": 16, "stroke": "black", "strokeWidth": 1.2}, "encoding": {"y": {"field": "q1", "type": "quantitative"}, "y2": {"field": "q3"}, "color": {"field": "grp", "type": "nominal", "scale": {"domain": ["Predicted Precursor", "HIV-F4.HSA-infected"], "range": ["#8edcf2", "#22409a"]}}}},
    {"transform": [{"filter": "datum.kind == 'inf'"}], "mark": {"type": "tick", "color": "black", "size": 15, "thickness": 1.5}, "encoding": {"y": {"field": "med", "type": "quantitative"}}},
    {"mark": {"type": "text", "dy": -3, "fontSize": 9, "color": "#333", "baseline": "alphabetic"}, "encoding": {"y": {"aggregate": "max", "field": "hi", "type": "quantitative"}, "text": {"field": "sig"}}}
   ]
  }
 ],
 "config": {
  "font": "Liberation Sans",
  "view": {"stroke": null},
  "axis": {"grid": false},
  "axisY": {"domainColor": "black", "domainWidth": 1.5, "tickColor": "black", "tickSize": 3, "tickWidth": 1, "labelFontSize": 10, "labelColor": "#333", "labelPadding": 2, "titleFontSize": 8.5, "titleFontWeight": "bold", "titleColor": "black", "titlePadding": 10},
  "axisX": {"domainColor": "black", "domainWidth": 1.5, "ticks": false, "tickSize": 0, "labelFontSize": 8, "labelFontWeight": "bold", "labelColor": "black", "labelPadding": 6, "labelAngle": 0},
  "title": {"color": "black"}
 }
}
